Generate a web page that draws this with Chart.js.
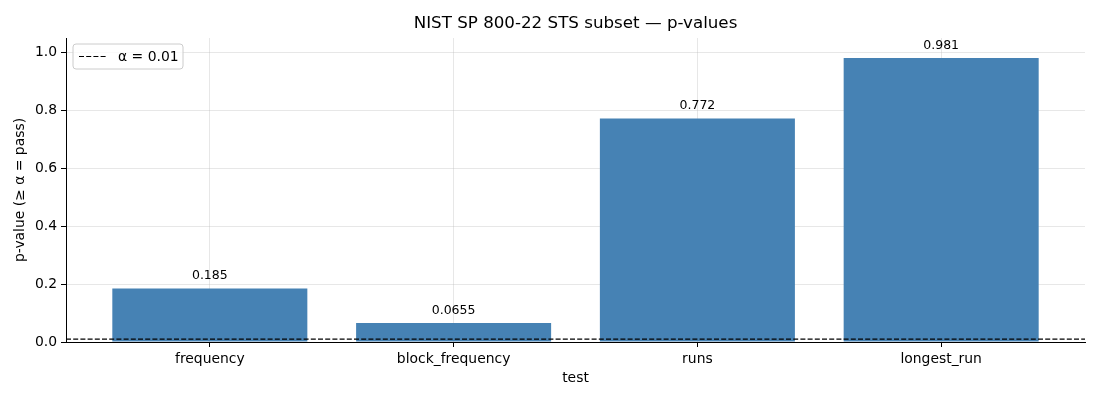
<!DOCTYPE html>
<html>
<head>
<meta charset="utf-8">
<script src="https://cdn.jsdelivr.net/npm/chart.js@4"></script>
<style>
    body { margin: 0; background: #fff; }
    #wrap { width: 1100px; height: 400px; }
</style>
</head>
<body>
<div id="wrap"><canvas id="pvalChart" width="1100" height="400"></canvas></div>
<script>
// Data
const tests = ['frequency', 'block_frequency', 'runs', 'longest_run'];
const pValues = [0.185, 0.0655, 0.772, 0.981];
const alpha = 0.01;
const yTicks = [0.0, 0.2, 0.4, 0.6, 0.8, 1.0];
const xMin = -0.59, xMax = 3.59;

const FONT = 'DejaVu Sans';
Chart.defaults.font.family = FONT;
Chart.defaults.color = '#000';

// value labels, title and legend box
const extras = {
    id: 'extras',
    afterDraw(chart) {
        const ctx = chart.ctx;
        const area = chart.chartArea;
        ctx.save();

        // labels over bars
        ctx.font = '12.5px ' + FONT;
        ctx.fillStyle = '#000';
        ctx.textAlign = 'center';
        ctx.textBaseline = 'bottom';
        chart.getDatasetMeta(0).data.forEach((bar, i) => {
            ctx.fillText(String(Number(pValues[i].toPrecision(3))), bar.x, bar.y - 6);
        });

        // title
        ctx.font = '16.7px ' + FONT;
        ctx.textBaseline = 'middle';
        ctx.fillText('NIST SP 800-22 STS subset — p-values', (area.left + area.right) / 2, 24);

        // legend
        const lx = area.left + 7, ly = area.top + 6, lw = 110, lh = 25;
        ctx.beginPath();
        ctx.roundRect(lx, ly, lw, lh, 3);
        ctx.fillStyle = 'rgba(255,255,255,0.8)';
        ctx.fill();
        ctx.strokeStyle = '#cccccc';
        ctx.lineWidth = 1;
        ctx.stroke();
        ctx.beginPath();
        ctx.setLineDash([5, 2.2]);
        ctx.strokeStyle = '#000';
        ctx.lineWidth = 1.2;
        ctx.moveTo(lx + 6, ly + lh / 2);
        ctx.lineTo(lx + 34, ly + lh / 2);
        ctx.stroke();
        ctx.setLineDash([]);
        ctx.font = '13.9px ' + FONT;
        ctx.fillStyle = '#000';
        ctx.textAlign = 'left';
        ctx.fillText(chart.data.datasets[1].label, lx + 45, ly + lh / 2 + 1);
        ctx.restore();
    }
};

const gridColor = 'rgba(176, 176, 176, 0.3)';

const ctx = document.getElementById('pvalChart').getContext('2d');
const pvalChart = new Chart(ctx, {
    type: 'bar',
    data: {
        datasets: [{
            type: 'bar',
            label: 'p-value',
            data: tests.map((t, i) => ({ x: i, y: pValues[i] })),
            backgroundColor: '#4682b4',
            borderWidth: 0,
            inflateAmount: 0,
            barPercentage: 0.8,
            categoryPercentage: 1.0,
            order: 2
        }, {
            type: 'line',
            label: 'α = 0.01',
            data: [{ x: xMin, y: alpha }, { x: xMax, y: alpha }],
            borderColor: '#000',
            borderWidth: 1.2,
            borderDash: [5, 2.2],
            pointRadius: 0,
            order: 1
        }]
    },
    options: {
        responsive: false,
        animation: false,
        devicePixelRatio: 1,
        layout: {
            padding: { left: 0, right: 15, top: 38, bottom: 0 }
        },
        plugins: {
            legend: { display: false },
            tooltip: { enabled: false }
        },
        scales: {
            x: {
                type: 'linear',
                min: xMin,
                max: xMax,
                offset: false,
                z: 1,
                afterBuildTicks: scale => {
                    scale.ticks = tests.map((t, i) => ({ value: i }));
                },
                afterFit: scale => { scale.height = 58; },
                grid: {
                    offset: false,
                    color: gridColor,
                    tickColor: '#000',
                    tickLength: 5
                },
                border: { display: true, color: '#000', width: 1 },
                ticks: {
                    padding: 4,
                    font: { size: 13.9 },
                    callback: value => tests[value]
                },
                title: {
                    display: true,
                    text: 'test',
                    font: { size: 13.9 },
                    padding: { top: 0, bottom: 13 }
                }
            },
            y: {
                min: 0,
                max: 1.05,
                z: 1,
                afterBuildTicks: scale => {
                    scale.ticks = yTicks.map(v => ({ value: v }));
                },
                afterFit: scale => { scale.width = 66; },
                grid: {
                    color: gridColor,
                    tickColor: '#000',
                    tickLength: 5
                },
                border: { display: true, color: '#000', width: 1 },
                ticks: {
                    padding: 4,
                    font: { size: 13.9 },
                    callback: value => value.toFixed(1)
                },
                title: {
                    display: true,
                    text: 'p-value (≥ α = pass)',
                    font: { size: 13.9 },
                    padding: { top: 12, bottom: 0 }
                }
            }
        }
    },
    plugins: [extras]
});
</script>
</body>
</html>
